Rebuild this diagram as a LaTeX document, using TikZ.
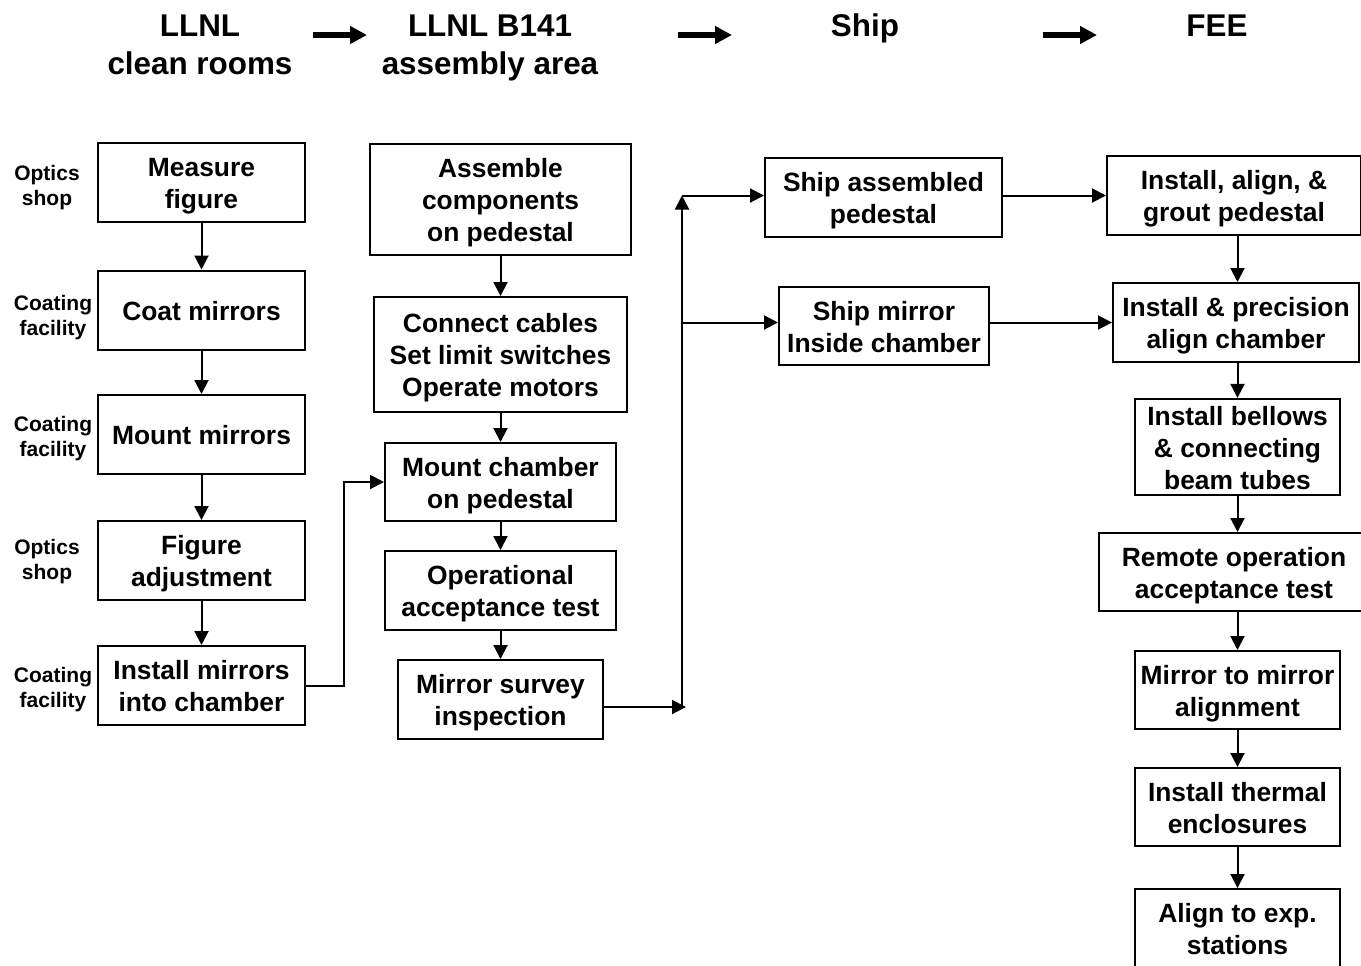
\documentclass[tikz,border=0pt]{standalone}
\usepackage{fontspec}
\setmainfont{Liberation Sans}
\usetikzlibrary{positioning,arrows.meta}

\newcommand{\tstrut}{\rule{0pt}{13.15pt}}
\tikzset{
  task/.style={draw, line width=1pt, align=center, inner sep=0pt,
    font=\fontsize{13.2}{16}\selectfont\bfseries,
    execute at end node={\rule[-3pt]{0pt}{3pt}}},
  boxsize/.style 2 args={minimum width=#1*0.5pt, minimum height=#2*0.5pt},
  place/.style={align=center, inner sep=0pt,
    font=\fontsize{10.5}{12.5}\selectfont\bfseries},
  header/.style={align=center, inner sep=0pt,
    font=\fontsize{15.7}{19}\selectfont\bfseries},
  flow/.style={line width=1pt, -{Triangle[length=7pt,width=7pt]}},
  bigarrow/.style={line width=3pt, -{Triangle[length=8.5pt,width=8.5pt]}}
}

\begin{document}
\begin{tikzpicture}[x=0.5pt, y=-0.5pt]
  \useasboundingbox (0,0) rectangle (1361,965);
  % Headers
  \node[header] (hdrclean) at (200,45) {LLNL\\clean rooms};
  \node[header] (hdrassy) at (490,48) {LLNL B141\\assembly area};
  \node[header] (hdrship) at (865,28) {Ship};
  \node[header] (hdrfee) at (1217,26) {FEE};
  \coordinate (ha1) at (313,35); \coordinate (hb1) at (367,35);
  \coordinate (ha2) at (678,35); \coordinate (hb2) at (732,35);
  \coordinate (ha3) at (1043,35); \coordinate (hb3) at (1097,35);
  \draw[bigarrow] (ha1) -- (hb1);
  \draw[bigarrow] (ha2) -- (hb2);
  \draw[bigarrow] (ha3) -- (hb3);

  % Clean rooms column
  \node[task, boxsize={207}{79}] (measure) at (201.5,182.5) {\tstrut Measure\\figure};
  \node[task, boxsize={207}{79}] (coat) at (201.5,310) {\tstrut Coat mirrors};
  \node[task, boxsize={207}{79}] (mountm) at (201.5,434.5) {\tstrut Mount mirrors};
  \node[task, boxsize={207}{79}] (figadj) at (201.5,560.5) {\tstrut Figure\\adjustment};
  \node[task, boxsize={207}{79}] (instm) at (201.5,685.5) {\tstrut Install mirrors\\into chamber};
  \node[place] (optics1) at (47,187.5) {Optics\\shop};
  \node[place] (coating1) at (53,318) {Coating\\facility};
  \node[place] (coating2) at (53,438.5) {Coating\\facility};
  \node[place] (optics2) at (47,561.5) {Optics\\shop};
  \node[place] (coating3) at (53,690) {Coating\\facility};
  \draw[flow] (measure) -- (coat);
  \draw[flow] (coat) -- (mountm);
  \draw[flow] (mountm) -- (figadj);
  \draw[flow] (figadj) -- (instm);

  % Assembly area column
  \node[task, boxsize={261}{111}] (assemble) at (500.5,199.5) {\tstrut Assemble\\components\\on pedestal};
  \node[task, boxsize={253}{115}] (cables) at (500.5,354.5) {\tstrut Connect cables\\Set limit switches\\Operate motors};
  \node[task, boxsize={231}{78}] (mchamber) at (500.5,482) {\tstrut Mount chamber\\on pedestal};
  \node[task, boxsize={231}{79}] (optest) at (500.5,590.5) {\tstrut Operational\\acceptance test};
  \node[task, boxsize={205}{79}] (survey) at (500.5,699.5) {\tstrut Mirror survey\\inspection};
  \draw[flow] (assemble) -- (cables);
  \draw[flow] (cables) -- (mchamber);
  \draw[flow] (mchamber) -- (optest);
  \draw[flow] (optest) -- (survey);
  \coordinate (jog) at (344,0);
  \draw[flow] (instm.east) -- (instm.east -| jog) |- (mchamber.west);

  % Ship column
  \node[task, boxsize={237}{79}] (shipped) at (883.5,197.5) {\tstrut Ship assembled\\pedestal};
  \node[task, boxsize={210}{78}] (shipmir) at (884,326) {\tstrut Ship mirror\\Inside chamber};

  % FEE column
  \node[task, boxsize={254}{79}] (grout) at (1234,195.5) {\tstrut Install, align, \&\\grout pedestal};
  \node[task, boxsize={246}{79}] (precise) at (1236,322.5) {\tstrut Install \& precision\\align chamber};
  \node[task, boxsize={205}{92}] (bellows) at (1237.5,447) {\tstrut Install bellows\\\& connecting\\beam tubes};
  \node[task, boxsize={270}{78}] (remote) at (1234,572) {\tstrut Remote operation\\acceptance test};
  \node[task, boxsize={205}{78}] (mirmir) at (1237.5,690) {\tstrut Mirror to mirror\\alignment};
  \node[task, boxsize={205}{78}] (thermal) at (1237.5,807) {\tstrut Install thermal\\enclosures};
  \node[task, boxsize={205}{78}] (alignexp) at (1237.5,928) {\tstrut Align to exp.\\stations};
  \draw[flow] (shipped.east |- grout.west) -- (grout.west);
  \draw[flow] (shipmir.east |- precise.west) -- (precise.west);
  \draw[flow] (grout.south -| bellows) -- (precise.north -| bellows);
  \draw[flow] (precise.south -| bellows) -- (bellows.north);
  \draw[flow] (bellows.south) -- (remote.north -| bellows);
  \draw[flow] (remote.south -| bellows) -- (mirmir.north);
  \draw[flow] (mirmir) -- (thermal);
  \draw[flow] (thermal) -- (alignexp);

  % Trunk to shipping
  \coordinate (trunk) at (682,0);
  \coordinate (tail) at (682,707);
  \coordinate (tailtip) at (686,707);
  \draw[flow] (survey.east |- tail) -- (tailtip);
  \draw[flow] (tail) -- (trunk |- grout.west);
  \draw[flow] (trunk |- grout.west) -- (shipped.west |- grout.west);
  \draw[flow] (trunk |- precise.west) -- (shipmir.west |- precise.west);
\end{tikzpicture}
\end{document}
